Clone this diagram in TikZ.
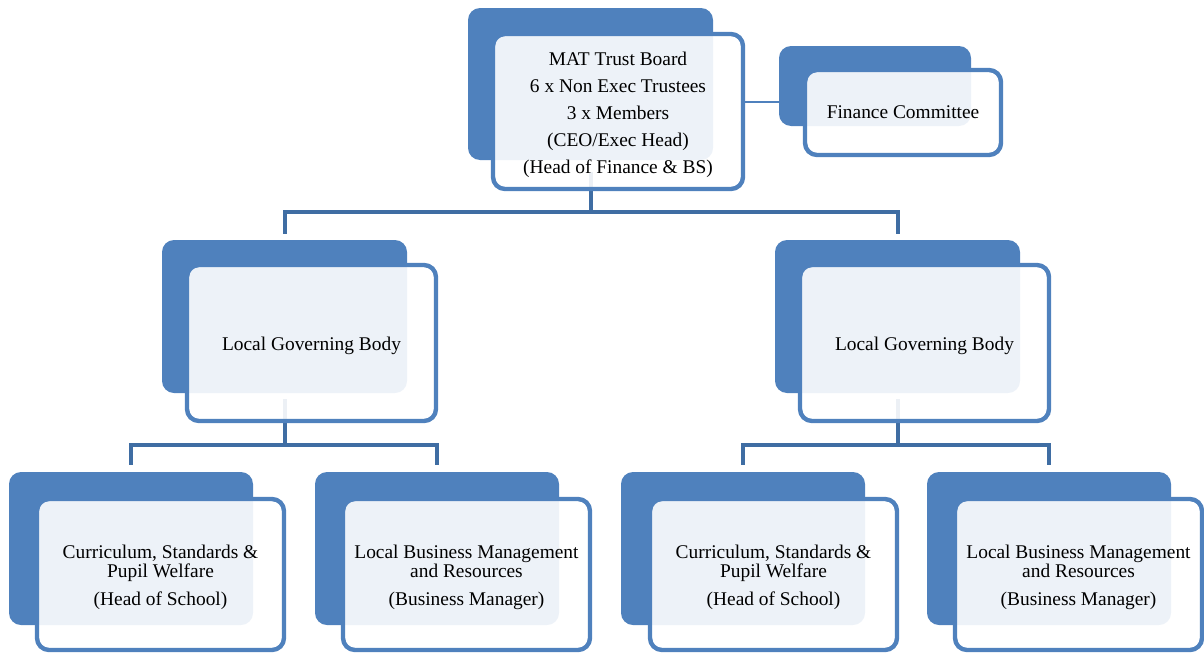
\documentclass[tikz,border=0pt]{standalone}
\usepackage{fontspec}
\setmainfont{Liberation Serif}
\usepackage{xcolor}
\usetikzlibrary{positioning}
\usetikzlibrary{backgrounds}
\definecolor{boxblue}{HTML}{4F81BD}
\definecolor{linkblue}{HTML}{3F6DA3}
\newcommand{\lift}{\rule{0pt}{10pt}}

\begin{document}
\begin{tikzpicture}[x=0.5pt,y=-0.5pt,
		backbox/.style={fill=boxblue, rounded corners=6pt, anchor=north west, inner sep=0pt, outer sep=0pt},
		frontbox/.style={draw=boxblue, line width=2.2pt, fill=white, fill opacity=0.9, text opacity=1,
			rounded corners=6pt, anchor=north west, inner sep=0pt, outer sep=0pt, align=center,
			font=\fontsize{9.7}{13.5}\selectfont},
		topb/.style={backbox, minimum width=122.5pt, minimum height=76.5pt},
		topf/.style={frontbox, minimum width=124.5pt, minimum height=78pt},
		lowb/.style={backbox, minimum width=122pt, minimum height=76.5pt},
		lowf/.style={frontbox, minimum width=123.5pt, minimum height=75.5pt},
		tree/.style={draw=linkblue, line width=2pt},
		sidelink/.style={draw=boxblue, line width=1pt}]
				\useasboundingbox (0,0) rectangle (1204,653);
				
				% trust board and finance committee
				\node[backbox, minimum width=122.5pt, minimum height=76pt] (matb) at (468,8) {};
				\node[frontbox, minimum width=125pt, minimum height=77.5pt] (mat) at (493,34)
					{\lift MAT Trust Board\\6 x Non Exec Trustees\\3 x Members\\(CEO/Exec Head)\\(Head of Finance \& BS)};
				\node[backbox, minimum width=96pt, minimum height=40pt] (finb) at (779,46) {};
				\node[frontbox, minimum width=98pt, minimum height=42.5pt] (fin) at (805,70) {Finance Committee};
				
				% local governing bodies
				\node[topb] (lgbLb) at (162,240) {};
				\node[topf] (lgbL) at (187,265) {\lift Local Governing Body};
				\node[topb] (lgbRb) at (775,240) {};
				\node[topf] (lgbR) at (800,265) {\lift Local Governing Body};
				
				% school committees
				\node[lowb] (curLb) at (9,472) {};
				\node[lowf] (curL) at (37,499)
					{\lift Curriculum, Standards \&\\[-4pt]Pupil Welfare\\[0.5pt](Head of School)};
				\node[lowb] (bizLb) at (315,472) {};
				\node[lowf] (bizL) at (343,499)
					{\lift Local Business Management\\[-4pt]and Resources\\[0.5pt](Business Manager)};
				\node[lowb] (curRb) at (621,472) {};
				\node[lowf] (curR) at (650,499)
					{\lift Curriculum, Standards \&\\[-4pt]Pupil Welfare\\[0.5pt](Head of School)};
				\node[lowb] (bizRb) at (927,472) {};
				\node[lowf] (bizR) at (955,499)
					{\lift Local Business Management\\[-4pt]and Resources\\[0.5pt](Business Manager)};
				
				% draw connectors behind the boxes
				\begin{pgfonlayer}{background}
					\draw[sidelink] ([yshift=4.75pt]mat.east) -- ([yshift=4.75pt]mat.east -| finb.west);
					
					\coordinate (matbus) at ([yshift=-26pt]matb.south);
					\draw[tree] ([yshift=-6pt]matb.south) -- (matbus);
					\draw[tree] (matbus) -| ([yshift=3pt]lgbLb.north);
					\draw[tree] (matbus) -| ([yshift=3pt]lgbRb.north);
					
					\coordinate (busL) at ([yshift=-26pt]lgbLb.south);
					\draw[tree] ([yshift=-3pt]lgbLb.south) -- (busL);
					\draw[tree] (busL) -| ([yshift=3.5pt]curLb.north);
					\draw[tree] (busL) -| ([yshift=3.5pt]bizLb.north);
					
					\coordinate (busR) at ([yshift=-26pt]lgbRb.south);
					\draw[tree] ([yshift=-3pt]lgbRb.south) -- (busR);
					\draw[tree] (busR) -| ([yshift=3.5pt]curRb.north);
					\draw[tree] (busR) -| ([yshift=3.5pt]bizRb.north);
				\end{pgfonlayer}
			\end{tikzpicture}
\end{document}
